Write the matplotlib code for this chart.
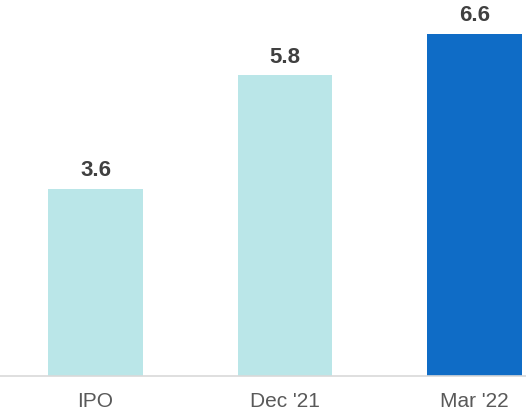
import matplotlib.pyplot as plt

categories = ["IPO", "Dec '21", "Mar '22"]
values = [3.6, 5.8, 6.6]
colors = ["#BAE6E8", "#BAE6E8", "#0F6CC6"]

plt.rcParams['font.family'] = ['Liberation Sans', 'DejaVu Sans']

fig = plt.figure(figsize=(5.26, 4.15), dpi=100)
ax = fig.add_axes([0, 0.095, 1, 0.905])

x = range(len(categories))
ax.bar(x, values, width=0.5, color=colors)
for i, v in zip(x, values):
    ax.text(i, v + 0.15, "%.1f" % v, ha='center', va='bottom',
            fontsize=16, fontweight='bold', color='#404040')

ax.set_xlim(-0.504, 2.272)
ax.set_ylim(0, 7.256)
ax.set_xticks(list(x))
ax.set_xticklabels(categories, fontsize=15, color='#595959')
ax.tick_params(axis='x', length=0, pad=12)
ax.set_yticks([])
for s in ['top', 'right', 'left']:
    ax.spines[s].set_visible(False)
ax.spines['bottom'].set_color('#D9D9D9')
ax.spines['bottom'].set_linewidth(1.2)

fig.savefig("out.png", dpi=100)
